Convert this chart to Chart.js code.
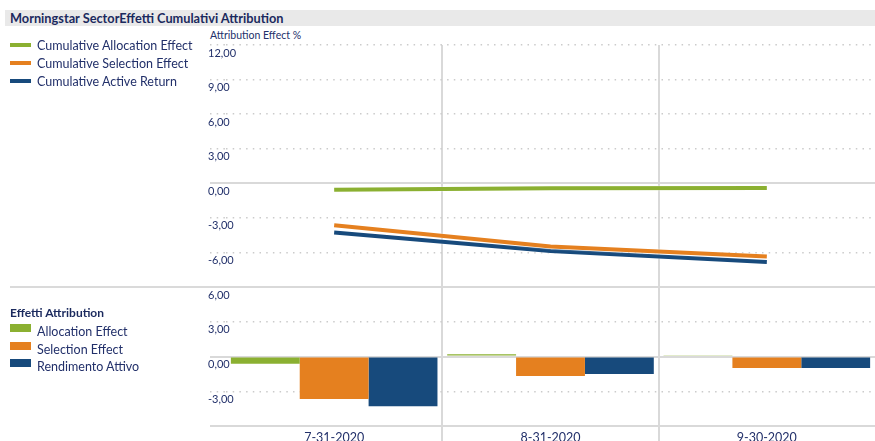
<!DOCTYPE html>
<html>
<head>
<meta charset="utf-8">
<script src="https://cdn.jsdelivr.net/npm/chart.js@4.4.1/dist/chart.umd.min.js"></script>
<style>
  body { margin:0; width:875px; height:441px; overflow:hidden; background:#fff; position:relative;
         font-family: Lato, "Liberation Sans", sans-serif; color:#22306a; }
  canvas { position:absolute; left:0; top:0; }
  .title { position:absolute; left:5px; top:10px; width:870px; height:16px; background:#e9e9e9; }
  .title span { position:absolute; left:5px; top:0px; font-weight:bold; font-size:12.75px; line-height:16px; color:#1b2a5e; white-space:nowrap; }
  .axt { position:absolute; left:210px; top:29px; font-size:10.5px; line-height:13px; white-space:nowrap; }
  .leg { position:absolute; left:10px; font-size:12.5px; line-height:14px; white-space:nowrap; }
  .leg i { position:absolute; left:0; width:21px; }
  .leg span { position:absolute; left:27px; top:-7px; }
  .lh { position:absolute; left:10px; top:306px; font-size:12px; font-weight:bold; line-height:14px; white-space:nowrap; color:#1b2a5e; }
  .divider { position:absolute; left:10px; top:286px; width:865px; height:2px; background:#dadada; }
</style>
</head>
<body>
<div class="title"><span>Morningstar SectorEffetti Cumulativi Attribution</span></div>
<div class="axt">Attribution Effect %</div>
<div class="divider"></div>
<canvas id="top" width="875" height="441"></canvas>
<canvas id="bot" width="875" height="441"></canvas>
<div id="legTop"></div>
<div class="lh">Effetti Attribution</div>
<div id="legBot"></div>
<script>
// ---- data ----
const categories = ['7-31-2020', '8-31-2020', '9-30-2020'];
const cumAllocation = [-0.57, -0.43, -0.41];
const cumSelection  = [-3.64, -5.49, -6.36];
const cumActive     = [-4.28, -5.87, -6.82];
const allocation = [-0.62, 0.2, 0.1];
const selection  = [-3.67, -1.69, -1.00];
const active     = [-4.30, -1.52, -1.00];
const topTicks = [12, 9, 6, 3, 0, -3, -6];
const topTickLabels = ['12,00', '9,00', '6,00', '3,00', '0,00', '-3,00', '-6,00'];
const topRange = [-9, 12];
const botTicks = [6, 3, 0, -3, -6];
const botTickLabels = ['6,00', '3,00', '0,00', '-3,00', ''];
const botRange = [-6, 6];
const topNames = ['Cumulative Allocation Effect', 'Cumulative Selection Effect', 'Cumulative Active Return'];
const botNames = ['Allocation Effect', 'Selection Effect', 'Rendimento Attivo'];
const colors = ['#8bb031', '#e5801f', '#174a7c'];

// ---- legends (HTML) ----
const legTop = document.getElementById('legTop');
topNames.forEach((n, i) => {
  const d = document.createElement('div');
  d.className = 'leg';
  d.style.top = (45.5 + i * 18) + 'px';
  d.innerHTML = '<i style="top:-3px;height:4px;background:' + colors[i] + '"></i><span>' + n + '</span>';
  legTop.appendChild(d);
});
const legBot = document.getElementById('legBot');
botNames.forEach((n, i) => {
  const d = document.createElement('div');
  d.className = 'leg';
  d.style.top = (332 + i * 17.5) + 'px';
  d.innerHTML = '<i style="top:-8px;height:8px;background:' + colors[i] + '"></i><span>' + n + '</span>';
  legBot.appendChild(d);
});

const dotted = [1.5, 5.2];
const textColor = '#22306a';

// draws y tick labels left-aligned, just below their grid line, via the library's y scale
const yLabelPlugin = {
  id: 'yLabels',
  afterDraw(chart, args, opts) {
    const s = chart.scales.y, ctx = chart.ctx;
    ctx.save();
    ctx.font = '11px Lato, "Liberation Sans", sans-serif';
    ctx.fillStyle = textColor;
    ctx.textAlign = 'left';
    ctx.textBaseline = 'middle';
    opts.values.forEach((v, i) => {
      if (opts.labels[i]) ctx.fillText(opts.labels[i], 208, s.getPixelForValue(v) + 8);
    });
    ctx.restore();
  }
};

// white halo around the lines
const haloPlugin = {
  id: 'halo',
  beforeDatasetDraw(chart) {
    const ctx = chart.ctx;
    ctx.save();
    ctx.shadowColor = 'rgba(255,255,255,1)';
    ctx.shadowBlur = 2;
  },
  afterDatasetDraw(chart) { chart.ctx.restore(); }
};

function yScale(ticksArr, range, solidVals) {
  const isSolid = c => c.tick && solidVals.includes(c.tick.value);
  return {
    min: range[0], max: range[1],
    afterBuildTicks: s => { s.ticks = ticksArr.map(v => ({ value: v })); },
    ticks: { display: false },
    grid: {
      color: c => isSolid(c) ? '#d9d9d9' : '#cbcbcb',
      lineWidth: c => isSolid(c) ? 2 : 1.5,
      tickLength: 16,
      tickBorderDash: c => isSolid(c) ? [] : dotted,
      borderDash: c => isSolid(c) ? [] : dotted
    },
    border: { display: false, dash: c => isSolid(c) ? [] : dotted }
  };
}

const vGrid = c => (c.index === 1 || c.index === 2) ? '#d9d9d9' : 'rgba(0,0,0,0)';

new Chart(document.getElementById('top'), {
  type: 'line',
  data: {
    labels: categories,
    datasets: [cumAllocation, cumSelection, cumActive].map((d, i) => ({
      label: topNames[i], data: d, borderColor: colors[i], backgroundColor: colors[i],
      borderWidth: 4, pointRadius: 0, tension: 0, fill: false
    }))
  },
  plugins: [yLabelPlugin, haloPlugin],
  options: {
    responsive: false, animation: false, devicePixelRatio: 1,
    layout: { padding: { left: 210, top: 45, right: 0, bottom: 154 } },
    plugins: { legend: { display: false }, tooltip: { enabled: false },
               yLabels: { values: topTicks, labels: topTickLabels } },
    scales: {
      x: {
        offset: true,
        ticks: { display: false },
        grid: { offset: true, drawTicks: false, color: vGrid, lineWidth: 2 },
        border: { display: false }
      },
      y: yScale(topTicks, topRange, [0])
    }
  }
});

new Chart(document.getElementById('bot'), {
  type: 'bar',
  data: {
    labels: categories,
    datasets: [allocation, selection, active].map((d, i) => ({
      label: botNames[i], data: d, backgroundColor: colors[i], borderWidth: 0,
      categoryPercentage: 0.955, barPercentage: 1
    }))
  },
  plugins: [yLabelPlugin],
  options: {
    responsive: false, animation: false, devicePixelRatio: 1,
    layout: { padding: { left: 210, top: 287, right: 0, bottom: 0 } },
    plugins: { legend: { display: false }, tooltip: { enabled: false },
               yLabels: { values: botTicks, labels: botTickLabels } },
    scales: {
      x: {
        afterFit: s => { s.height = 15; },
        ticks: { color: textColor, font: { family: 'Lato, "Liberation Sans", sans-serif', size: 12.5 }, padding: -11, maxRotation: 0 },
        grid: { offset: true, color: vGrid, lineWidth: 2, tickLength: 15 },
        border: { display: false }
      },
      y: yScale(botTicks, botRange, [6, 0, -6])
    }
  }
});
</script>
</body>
</html>
